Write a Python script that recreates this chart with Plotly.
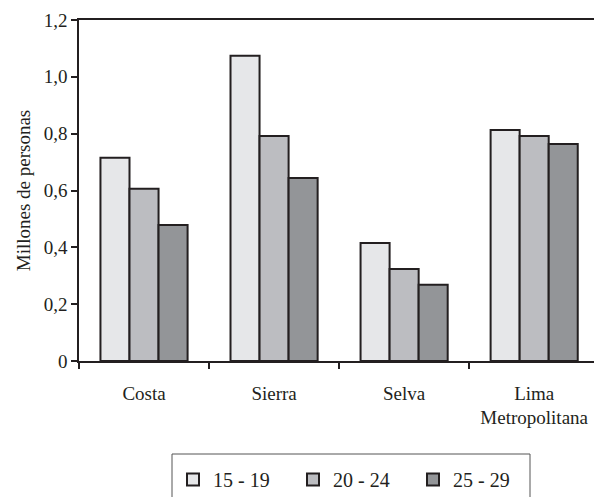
import plotly.graph_objects as go

categories = ["Costa", "Sierra", "Selva", "Lima<br>Metropolitana"]
series_names = ["15 - 19", "20 - 24", "25 - 29"]
v_15_19 = [0.715, 1.074, 0.415, 0.813]
v_20_24 = [0.606, 0.792, 0.324, 0.792]
v_25_29 = [0.479, 0.644, 0.268, 0.764]
y_tickvals = [0, 0.2, 0.4, 0.6, 0.8, 1.0, 1.2]
y_ticktext = ["0", "0,2", "0,4", "0,6", "0,8", "1,0", "1,2"]

colors = ["#e6e7e9", "#bcbdc1", "#939598"]
font = "Liberation Serif"

fig = go.Figure()
for name, vals, col in zip(series_names, [v_15_19, v_20_24, v_25_29], colors):
    fig.add_trace(go.Bar(
        x=categories, y=vals, name=name,
        marker=dict(color=col, line=dict(color="#231f20", width=2)),
    ))

# legend frame (open at the bottom like the reference crop)
fig.add_shape(type="rect", xref="paper", yref="paper",
              x0=(172 - 79) / 515, x1=(530 - 79) / 515,
              y0=-(515 - 361) / 341, y1=-(454 - 361) / 341,
              line=dict(color="#555555", width=1), fillcolor="rgba(0,0,0,0)")

fig.update_layout(
    width=594, height=497,
    margin=dict(l=79, r=0, t=20, b=136, autoexpand=False),
    paper_bgcolor="white", plot_bgcolor="white",
    barmode="group", bargap=0.33, bargroupgap=0,
    font=dict(family=font, size=18, color="#231f20"),
    showlegend=True,
    legend=dict(
        orientation="h", x=(173 - 79) / 515, xanchor="left",
        y=-(460 - 361) / 341, yanchor="top",
        borderwidth=0, bgcolor="rgba(0,0,0,0)",
        font=dict(family=font, size=20, color="#231f20"),
        entrywidth=75, entrywidthmode="pixels",
        traceorder="normal",
    ),
    xaxis=dict(
        range=[-0.5, 3.46], showline=True, linecolor="#231f20", linewidth=1.5,
        mirror=True, ticks="outside", tickson="boundaries", ticklen=6,
        tickcolor="#231f20", tickwidth=1.5, showgrid=False,
        ticklabelstandoff=14,
        tickfont=dict(family=font, size=19),
    ),
    yaxis=dict(
        range=[0, 1.2], tickvals=y_tickvals, ticktext=y_ticktext,
        showline=True, linecolor="#231f20", linewidth=1.5,
        ticks="outside", ticklen=6, tickcolor="#231f20", tickwidth=1.5,
        showgrid=False, zeroline=False,
        title=dict(text="Millones de personas", font=dict(family=font, size=19), standoff=8),
        tickfont=dict(family=font, size=19),
    ),
)

fig.write_html("out.html", config={"displayModeBar": False},
               post_script="document.body.style.margin='0px';")
